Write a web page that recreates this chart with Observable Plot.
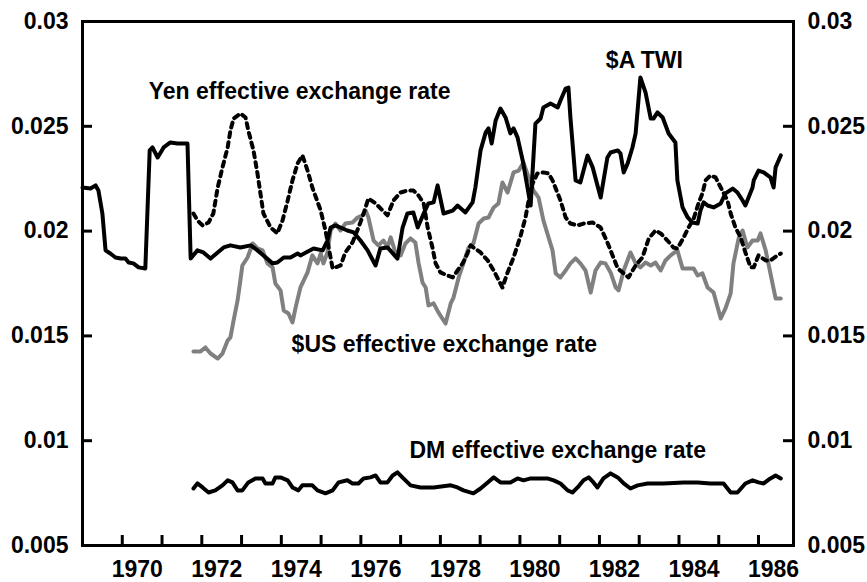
<!DOCTYPE html>
<html>
<head>
<meta charset="utf-8">
<script src="https://cdn.jsdelivr.net/npm/d3@7"></script>
<script src="https://cdn.jsdelivr.net/npm/@observablehq/plot@0.6"></script>
<style>
  html, body { margin: 0; padding: 0; background: #fff; }
  #chart { width: 867px; height: 582px; }
</style>
</head>
<body>
<div id="chart"></div>
<script>
// ---- Data: [decimal year, value] ----
const aTWI = [
  [1969.00,0.02208],[1969.20,0.02203],[1969.33,0.02218],[1969.40,0.02194],[1969.50,0.02084],
  [1969.58,0.01908],[1969.70,0.01893],[1969.83,0.01874],[1969.96,0.01869],[1970.08,0.01869],
  [1970.16,0.01850],[1970.28,0.01846],[1970.41,0.01827],[1970.58,0.01822],[1970.69,0.02385],
  [1970.76,0.02399],[1970.89,0.02351],[1971.04,0.02399],[1971.21,0.02423],[1971.39,0.02418],
  [1971.64,0.02418],[1971.72,0.01869],[1971.89,0.01908],[1972.04,0.01898],[1972.22,0.01869],
  [1972.40,0.01898],[1972.55,0.01922],[1972.72,0.01932],[1972.97,0.01922],[1973.23,0.01932],
  [1973.40,0.01908],[1973.55,0.01884],[1973.78,0.01846],[1973.90,0.01850],[1974.06,0.01874],
  [1974.23,0.01874],[1974.41,0.01893],[1974.48,0.01884],[1974.81,0.01917],[1975.04,0.01908],
  [1975.16,0.01955],[1975.24,0.02017],[1975.36,0.02027],[1975.66,0.02003],[1975.82,0.01994],
  [1975.99,0.01955],[1976.17,0.01908],[1976.37,0.01836],[1976.49,0.01917],[1976.67,0.01922],
  [1976.92,0.01869],[1977.05,0.02017],[1977.17,0.02084],[1977.32,0.02089],[1977.43,0.02017],
  [1977.58,0.02084],[1977.70,0.02132],[1977.83,0.02137],[1977.93,0.02218],[1978.08,0.02084],
  [1978.31,0.02098],[1978.43,0.02122],[1978.63,0.02089],[1978.81,0.02137],[1978.88,0.02208],
  [1979.01,0.02385],[1979.14,0.02471],[1979.21,0.02490],[1979.29,0.02418],[1979.39,0.02528],
  [1979.51,0.02585],[1979.64,0.02542],[1979.76,0.02466],[1979.84,0.02490],[1979.94,0.02447],
  [1980.07,0.02337],[1980.19,0.02208],[1980.27,0.02122],[1980.32,0.02289],[1980.39,0.02513],
  [1980.52,0.02537],[1980.59,0.02590],[1980.77,0.02609],[1980.95,0.02590],[1981.02,0.02623],
  [1981.15,0.02680],[1981.22,0.02685],[1981.27,0.02542],[1981.40,0.02242],[1981.52,0.02232],
  [1981.70,0.02361],[1981.83,0.02304],[1982.03,0.02160],[1982.20,0.02351],[1982.28,0.02375],
  [1982.46,0.02385],[1982.53,0.02370],[1982.61,0.02280],[1982.71,0.02323],[1982.83,0.02399],
  [1982.91,0.02466],[1983.03,0.02733],[1983.16,0.02661],[1983.29,0.02537],[1983.36,0.02537],
  [1983.46,0.02566],[1983.59,0.02542],[1983.74,0.02466],[1983.91,0.02423],[1983.96,0.02242],
  [1984.09,0.02113],[1984.22,0.02065],[1984.34,0.02041],[1984.47,0.02036],[1984.54,0.02098],
  [1984.62,0.02137],[1984.72,0.02122],[1984.87,0.02113],[1985.05,0.02132],[1985.17,0.02180],
  [1985.35,0.02203],[1985.47,0.02184],[1985.60,0.02146],[1985.67,0.02122],[1985.75,0.02160],
  [1985.85,0.02208],[1985.88,0.02242],[1986.00,0.02289],[1986.13,0.02280],[1986.30,0.02256],
  [1986.38,0.02208],[1986.43,0.02304],[1986.56,0.02361]
];

const yenEER = [
  [1971.79,0.02084],[1971.89,0.02051],[1972.02,0.02027],[1972.17,0.02041],[1972.29,0.02084],
  [1972.40,0.02208],[1972.52,0.02304],[1972.65,0.02399],[1972.72,0.02480],[1972.80,0.02537],
  [1972.97,0.02561],[1973.10,0.02542],[1973.17,0.02480],[1973.30,0.02385],[1973.40,0.02275],
  [1973.55,0.02084],[1973.73,0.02017],[1973.90,0.01989],[1974.03,0.02051],[1974.16,0.02146],
  [1974.28,0.02242],[1974.41,0.02323],[1974.53,0.02361],[1974.66,0.02289],[1974.78,0.02208],
  [1974.99,0.02098],[1975.11,0.02003],[1975.29,0.01822],[1975.49,0.01836],[1975.61,0.01898],
  [1975.79,0.01946],[1975.94,0.02017],[1976.07,0.02084],[1976.19,0.02156],[1976.37,0.02132],
  [1976.55,0.02098],[1976.67,0.02075],[1976.82,0.02146],[1977.00,0.02184],[1977.17,0.02194],
  [1977.32,0.02194],[1977.45,0.02170],[1977.58,0.02132],[1977.68,0.02017],[1977.80,0.01922],
  [1977.88,0.01846],[1978.00,0.01803],[1978.18,0.01788],[1978.31,0.01779],[1978.43,0.01812],
  [1978.56,0.01846],[1978.68,0.01893],[1978.76,0.01932],[1978.83,0.01922],[1979.01,0.01898],
  [1979.19,0.01860],[1979.34,0.01812],[1979.56,0.01731],[1979.69,0.01803],[1979.84,0.01874],
  [1980.02,0.01979],[1980.14,0.02065],[1980.22,0.02146],[1980.32,0.02227],[1980.44,0.02275],
  [1980.59,0.02280],[1980.72,0.02275],[1980.82,0.02242],[1980.95,0.02180],[1981.02,0.02146],
  [1981.15,0.02065],[1981.27,0.02036],[1981.45,0.02027],[1981.60,0.02036],[1981.83,0.02041],
  [1982.03,0.02017],[1982.20,0.01946],[1982.33,0.01884],[1982.46,0.01822],[1982.58,0.01803],
  [1982.73,0.01779],[1982.91,0.01836],[1983.08,0.01874],[1983.24,0.01965],[1983.41,0.02003],
  [1983.54,0.01989],[1983.71,0.01955],[1983.86,0.01922],[1983.96,0.01917],[1984.12,0.01970],
  [1984.24,0.02017],[1984.37,0.02060],[1984.49,0.02132],[1984.59,0.02180],[1984.67,0.02242],
  [1984.79,0.02265],[1984.92,0.02256],[1985.05,0.02208],[1985.22,0.02146],[1985.30,0.02084],
  [1985.42,0.02017],[1985.55,0.01970],[1985.67,0.01898],[1985.80,0.01827],[1985.88,0.01827],
  [1986.00,0.01884],[1986.18,0.01860],[1986.30,0.01860],[1986.48,0.01884],[1986.56,0.01893]
];

const usEER = [
  [1971.79,0.01426],[1971.97,0.01426],[1972.09,0.01445],[1972.22,0.01416],[1972.40,0.01392],
  [1972.52,0.01416],[1972.65,0.01478],[1972.72,0.01493],[1972.80,0.01574],[1972.90,0.01669],
  [1972.97,0.01765],[1973.02,0.01836],[1973.15,0.01874],[1973.28,0.01941],[1973.40,0.01917],
  [1973.53,0.01908],[1973.65,0.01846],[1973.78,0.01827],[1973.85,0.01750],[1973.98,0.01717],
  [1974.06,0.01621],[1974.18,0.01607],[1974.28,0.01564],[1974.36,0.01636],[1974.48,0.01731],
  [1974.66,0.01803],[1974.78,0.01884],[1974.91,0.01846],[1974.99,0.01893],[1975.06,0.01846],
  [1975.16,0.01898],[1975.24,0.02003],[1975.36,0.02036],[1975.49,0.02003],[1975.61,0.02036],
  [1975.79,0.02041],[1975.92,0.02065],[1976.04,0.02075],[1976.12,0.02098],[1976.19,0.02065],
  [1976.32,0.01955],[1976.44,0.01932],[1976.57,0.01955],[1976.67,0.01922],[1976.75,0.01970],
  [1976.87,0.01898],[1977.00,0.01884],[1977.12,0.01941],[1977.25,0.01965],[1977.37,0.01946],
  [1977.45,0.01850],[1977.55,0.01755],[1977.63,0.01731],[1977.70,0.01645],[1977.83,0.01655],
  [1977.95,0.01612],[1978.13,0.01559],[1978.26,0.01655],[1978.33,0.01683],[1978.46,0.01779],
  [1978.58,0.01846],[1978.71,0.01922],[1978.83,0.01941],[1978.96,0.02036],[1979.09,0.02060],
  [1979.21,0.02065],[1979.34,0.02113],[1979.46,0.02132],[1979.56,0.02232],[1979.69,0.02184],
  [1979.84,0.02280],[1979.97,0.02289],[1980.09,0.02327],[1980.22,0.02256],[1980.34,0.02194],
  [1980.47,0.02160],[1980.59,0.02051],[1980.72,0.01970],[1980.82,0.01908],[1980.90,0.01798],
  [1981.02,0.01779],[1981.15,0.01812],[1981.27,0.01846],[1981.40,0.01870],[1981.52,0.01846],
  [1981.65,0.01812],[1981.78,0.01707],[1981.90,0.01812],[1982.03,0.01850],[1982.15,0.01846],
  [1982.28,0.01803],[1982.41,0.01731],[1982.48,0.01717],[1982.61,0.01812],[1982.78,0.01898],
  [1982.91,0.01846],[1983.03,0.01827],[1983.16,0.01850],[1983.29,0.01836],[1983.41,0.01850],
  [1983.54,0.01812],[1983.66,0.01860],[1983.79,0.01884],[1983.96,0.01908],[1984.09,0.01822],
  [1984.24,0.01822],[1984.37,0.01822],[1984.47,0.01788],[1984.59,0.01798],[1984.72,0.01731],
  [1984.87,0.01707],[1985.05,0.01583],[1985.17,0.01631],[1985.30,0.01703],[1985.37,0.01846],
  [1985.50,0.01965],[1985.60,0.02003],[1985.72,0.01922],[1985.85,0.01955],[1985.98,0.01955],
  [1986.05,0.01989],[1986.18,0.01908],[1986.30,0.01798],[1986.43,0.01679],[1986.56,0.01679]
];

const dmEER = [
  [1971.79,0.00772],[1971.89,0.00796],[1972.02,0.00777],[1972.17,0.00753],[1972.34,0.00763],
  [1972.52,0.00787],[1972.65,0.00811],[1972.77,0.00801],[1972.90,0.00763],[1973.02,0.00763],
  [1973.17,0.00801],[1973.35,0.00820],[1973.53,0.00820],[1973.60,0.00796],[1973.78,0.00796],
  [1973.85,0.00825],[1973.98,0.00825],[1974.16,0.00811],[1974.28,0.00777],[1974.43,0.00763],
  [1974.53,0.00787],[1974.78,0.00787],[1974.91,0.00763],[1975.11,0.00749],[1975.29,0.00763],
  [1975.44,0.00801],[1975.66,0.00811],[1975.79,0.00796],[1975.94,0.00796],[1976.07,0.00820],
  [1976.24,0.00825],[1976.37,0.00834],[1976.49,0.00801],[1976.67,0.00801],[1976.80,0.00834],
  [1976.92,0.00849],[1977.07,0.00820],[1977.25,0.00787],[1977.50,0.00777],[1977.83,0.00777],
  [1978.26,0.00787],[1978.43,0.00777],[1978.58,0.00763],[1978.83,0.00749],[1979.01,0.00772],
  [1979.19,0.00801],[1979.34,0.00825],[1979.51,0.00801],[1979.76,0.00801],[1979.94,0.00820],
  [1980.09,0.00811],[1980.27,0.00820],[1980.52,0.00820],[1980.69,0.00820],[1980.85,0.00811],
  [1981.02,0.00796],[1981.20,0.00763],[1981.32,0.00753],[1981.45,0.00777],[1981.60,0.00811],
  [1981.73,0.00825],[1981.85,0.00801],[1981.95,0.00777],[1982.10,0.00820],[1982.28,0.00844],
  [1982.46,0.00825],[1982.61,0.00796],[1982.78,0.00772],[1982.96,0.00787],[1983.21,0.00796],
  [1983.61,0.00796],[1984.12,0.00801],[1984.47,0.00801],[1984.79,0.00796],[1985.12,0.00796],
  [1985.30,0.00753],[1985.47,0.00753],[1985.67,0.00796],[1985.85,0.00811],[1986.00,0.00801],
  [1986.13,0.00796],[1986.30,0.00820],[1986.43,0.00834],[1986.56,0.00820]
];

const yearTicks = [1970,1971,1972,1973,1974,1975,1976,1977,1978,1979,1980,1981,1982,1983,1984,1985,1986];
const yearLabels = [1970,1972,1974,1976,1978,1980,1982,1984,1986];
const valueTicks = [0.005,0.01,0.015,0.02,0.025,0.03];

const annotationText = ["Yen effective exchange rate", "$A TWI", "$US effective exchange rate", "DM effective exchange rate"];
const annotationX = [1974.46, 1983.13, 1978.10, 1980.95];
const annotationY = [0.02666, 0.02814, 0.01459, 0.00954];
const annotations = annotationText.map((t, i) => ({text: t, x: annotationX[i], y: annotationY[i]}));

// ---- Layout ----
const W = 867, H = 582;
const mL = 82, mR = 74, mT = 21, mB = 37;
const plotW = W - mL - mR, plotH = H - mT - mB;
const tickLen = 10;
const FONT = "'Liberation Sans', Arial, Helvetica, sans-serif";

const chart = Plot.plot({
  width: W,
  height: H,
  marginLeft: mL,
  marginRight: mR,
  marginTop: mT,
  marginBottom: mB,
  style: {fontFamily: FONT, fontSize: "23px", fontWeight: "bold", color: "#000", background: "#fff", overflow: "visible"},
  x: {type: "linear", domain: [1969, 1986.88]},
  y: {type: "linear", domain: [0.005, 0.03]},
  marks: [
    // lines
    Plot.line(usEER, {x: d => d[0], y: d => d[1], stroke: "#808080", strokeWidth: 4, strokeLinejoin: "round"}),
    Plot.line(yenEER, {x: d => d[0], y: d => d[1], stroke: "#000", strokeWidth: 4, strokeDasharray: "5,5", strokeLinejoin: "round"}),
    Plot.line(aTWI, {x: d => d[0], y: d => d[1], stroke: "#000", strokeWidth: 4, strokeLinejoin: "round"}),
    Plot.line(dmEER, {x: d => d[0], y: d => d[1], stroke: "#000", strokeWidth: 4, strokeLinejoin: "round"}),
    // inward tick marks
    Plot.tickX(yearTicks, {x: d => d, stroke: "#000", strokeWidth: 3, insetTop: plotH - tickLen}),
    Plot.tickY(valueTicks, {y: d => d, stroke: "#000", strokeWidth: 3, insetRight: plotW - tickLen}),
    Plot.tickY(valueTicks, {y: d => d, stroke: "#000", strokeWidth: 3, insetLeft: plotW - tickLen}),
    // axes labels
    Plot.axisY(valueTicks, {anchor: "left", tickSize: 0, tickPadding: 14, tickFormat: d => String(+d.toFixed(3)), label: null}),
    Plot.axisY(valueTicks, {anchor: "right", tickSize: 0, tickPadding: 14, tickFormat: d => String(+d.toFixed(3)), label: null}),
    Plot.axisX(yearLabels, {anchor: "bottom", tickSize: 0, tickPadding: 15, dx: 15, tickFormat: d => String(d), label: null}),
    // frame
    Plot.frame({stroke: "#000", strokeWidth: 3}),
    // annotations
    Plot.text(annotations, {x: "x", y: "y", text: "text", textAnchor: "middle", fill: "#000", fontSize: 23, fontWeight: "bold"})
  ]
});
document.getElementById("chart").appendChild(chart);
</script>
</body>
</html>
